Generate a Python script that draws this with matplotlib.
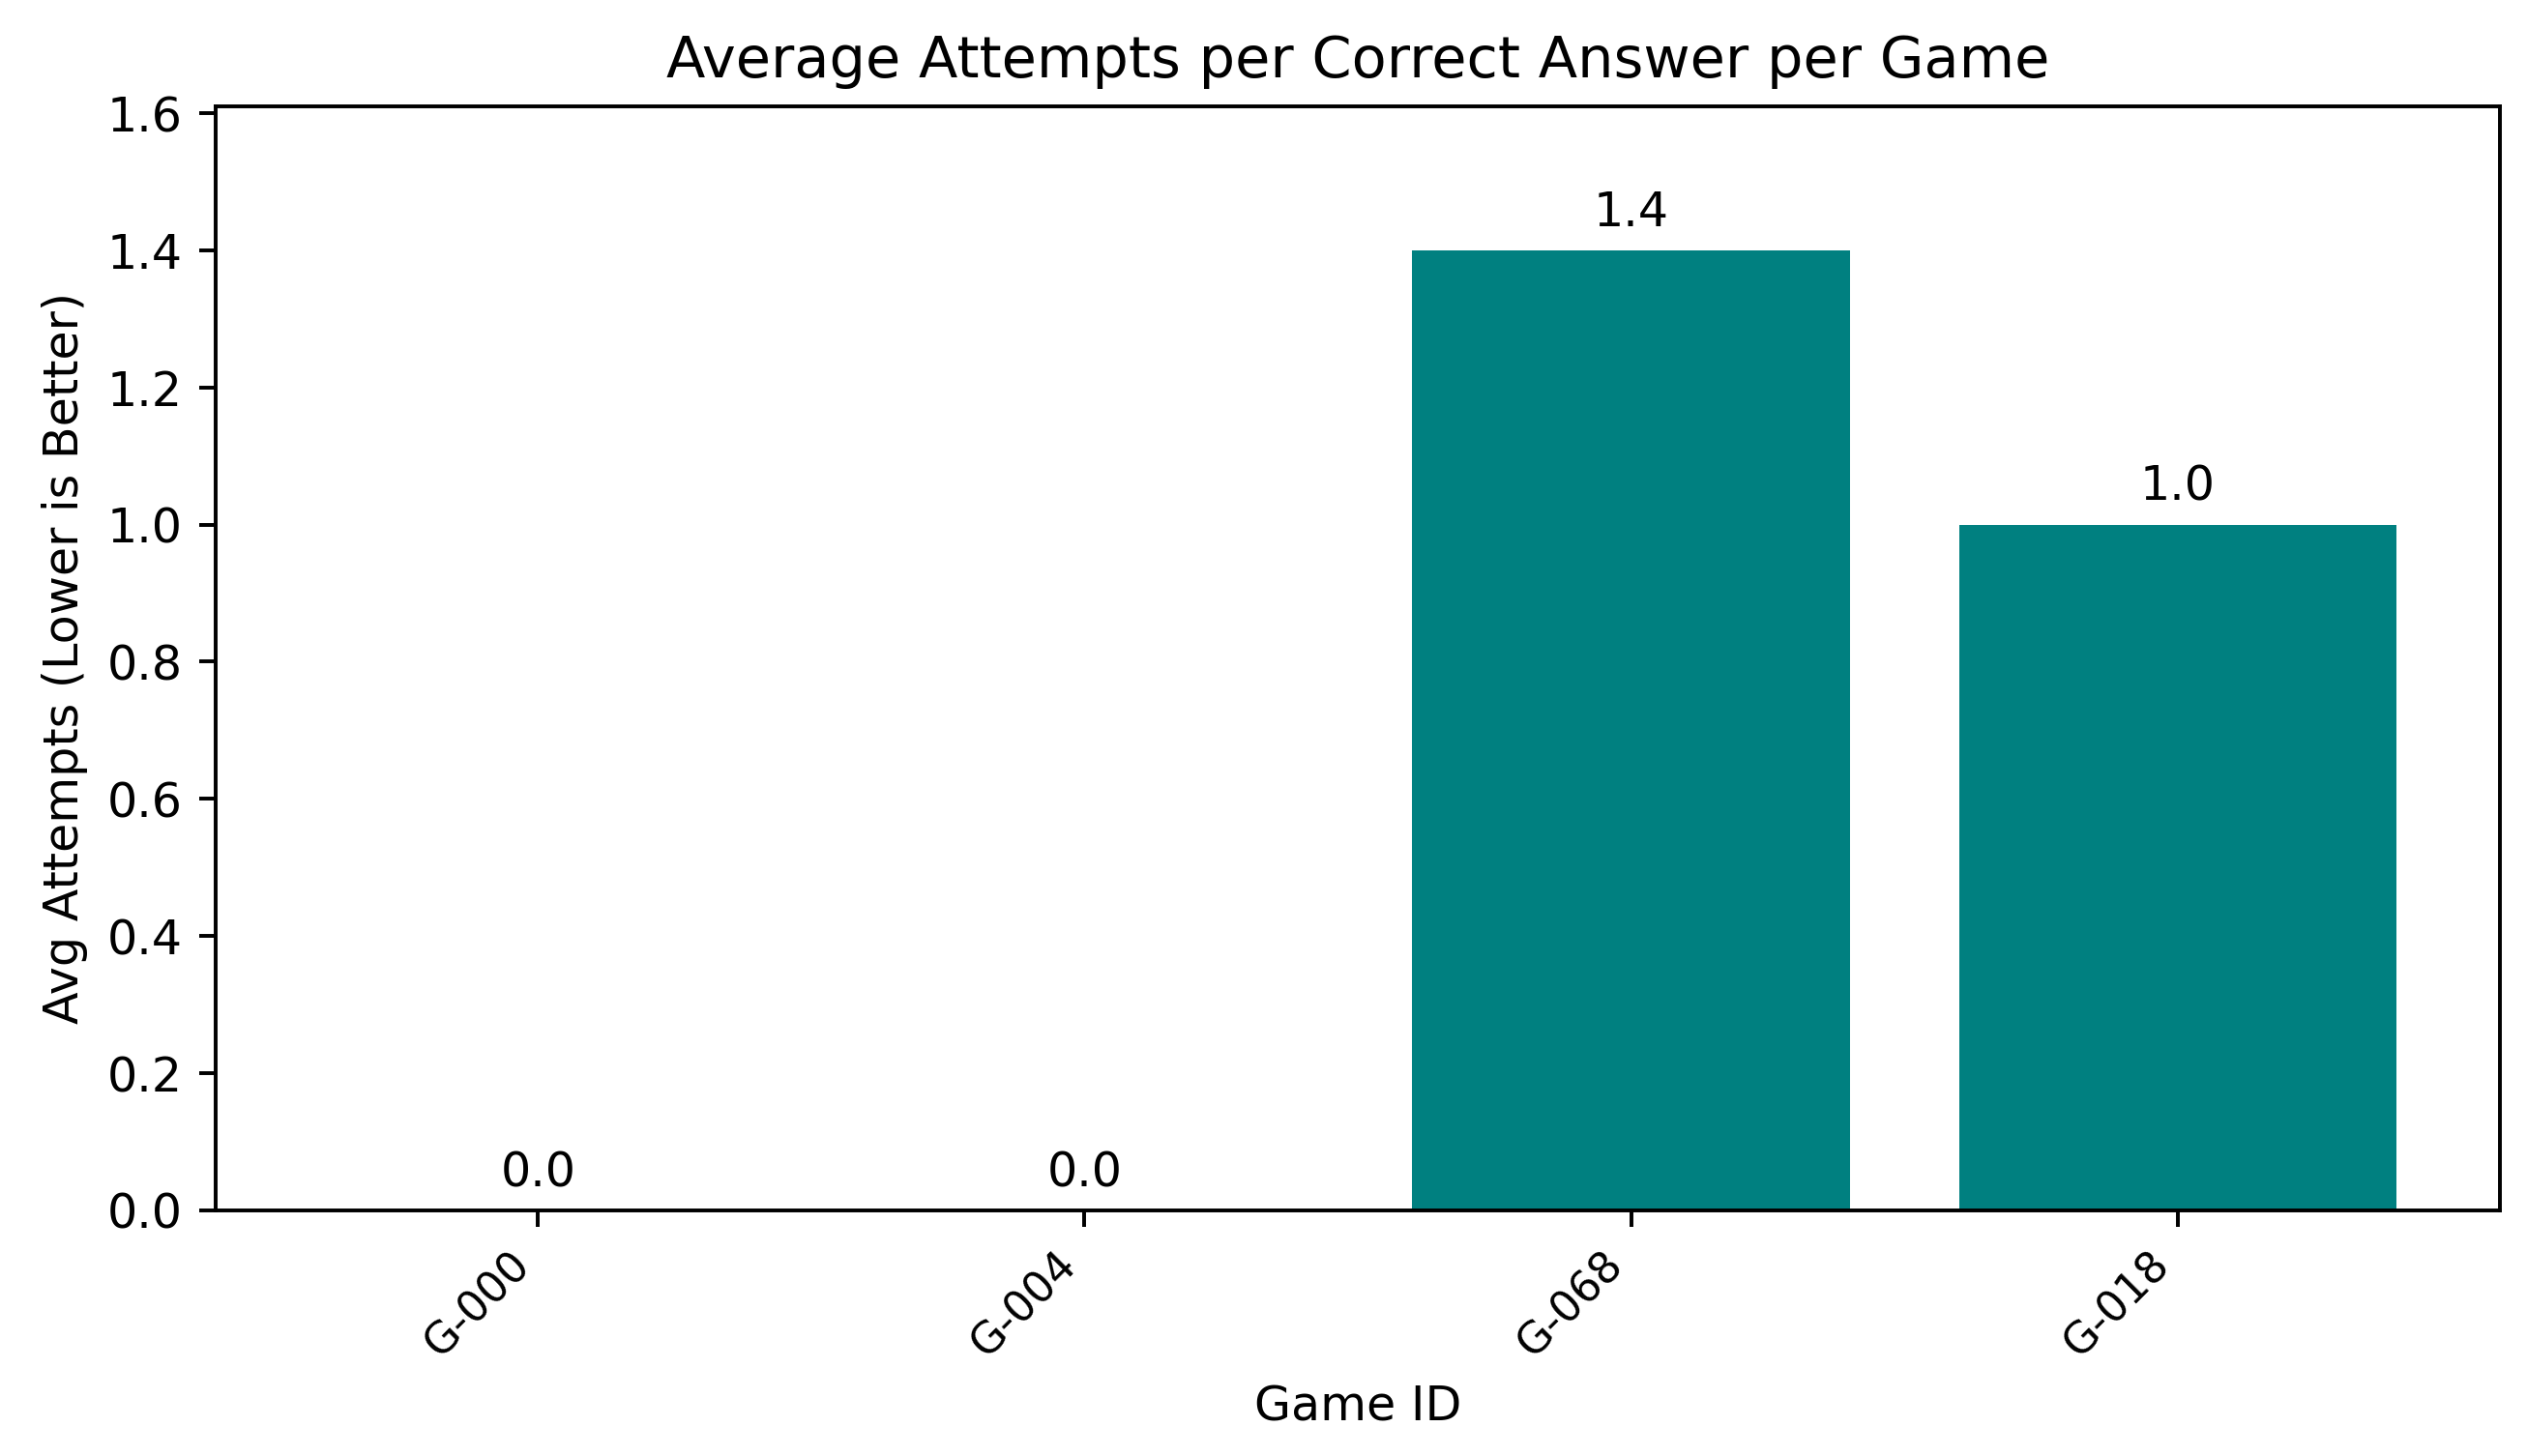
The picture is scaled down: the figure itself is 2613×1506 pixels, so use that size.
import matplotlib
matplotlib.use('Agg')
from matplotlib import pyplot as plt

game_ids = ['G-000', 'G-004', 'G-068', 'G-018']
avg_attempts = [0.0, 0.0, 1.4, 1.0]

DPI = 354


def main():
    fig, ax = plt.subplots(figsize=(2613 / DPI, 1506 / DPI), dpi=DPI)
    fig.subplots_adjust(left=0.0853, right=0.9893, bottom=0.1687, top=0.927)

    bars = ax.bar(game_ids, avg_attempts, color='teal')
    ax.bar_label(bars, fmt='%.1f', padding=3)

    ax.set_ylim(0, max(avg_attempts) * 1.15)
    ax.set_title('Average Attempts per Correct Answer per Game')
    ax.set_xlabel('Game ID')
    ax.set_ylabel('Avg Attempts (Lower is Better)')
    plt.setp(ax.get_xticklabels(), rotation=45, ha='right', fontsize=9)

    plt.savefig('out.png', dpi=DPI)


if __name__ == '__main__':
    main()
